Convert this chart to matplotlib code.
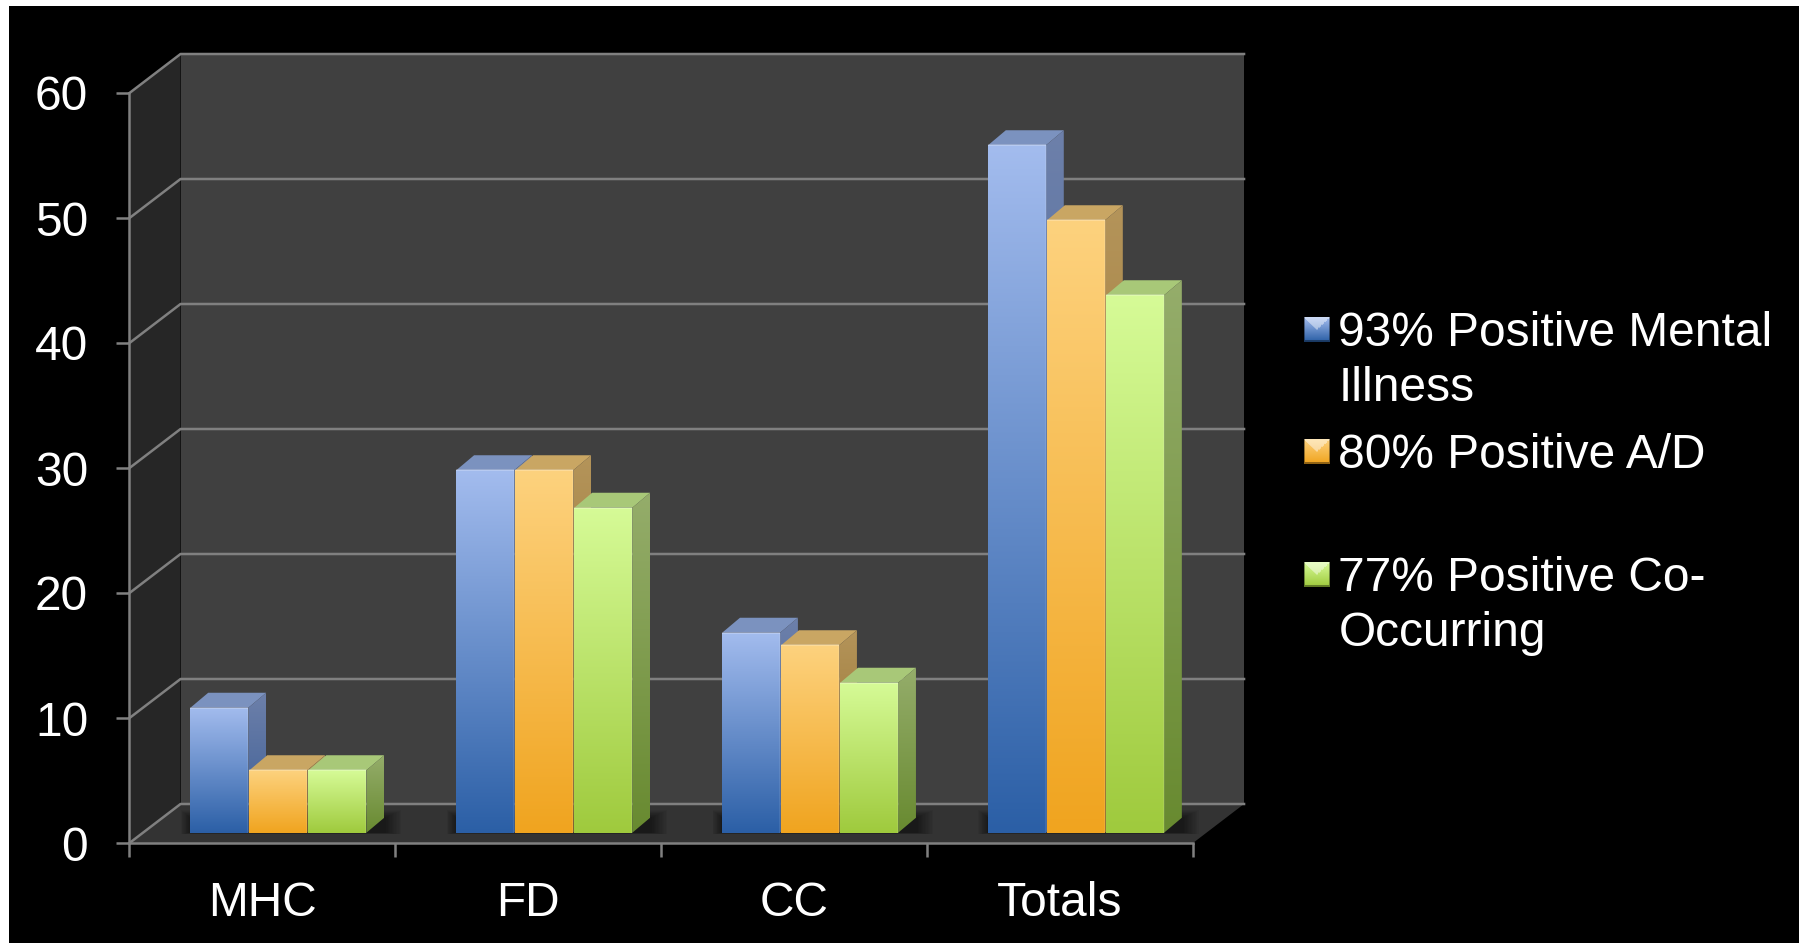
"""Dark 3D style column chart of screening results, faked with flat polygons."""
import numpy as np
import matplotlib
matplotlib.use('Agg')
import matplotlib.pyplot as plt
from matplotlib.colors import to_rgb
from matplotlib.patches import Polygon, Rectangle

plt.rcParams['font.family'] = ['Liberation Sans', 'DejaVu Sans']

# Data
categories = ['MHC', 'FD', 'CC', 'Totals']
mental_illness = [10, 29, 16, 55]
alcohol_drug = [5, 29, 15, 49]
co_occurring = [5, 26, 12, 43]
y_ticks = [0, 10, 20, 30, 40, 50, 60]
legend_labels = ['93% Positive Mental\nIllness', '80% Positive A/D', '77% Positive Co-\nOccurring']

series = [mental_illness, alcohol_drug, co_occurring]
# front top, front bottom, top face, side top, side bottom
palette = [
    ('#a3bcee', '#2b5fa6', '#7b92bf', '#6d80aa', '#3a5c94'),
    ('#fdd27e', '#f0a41f', '#c9a663', '#b4945a', '#8f6a22'),
    ('#d6fb97', '#9fca3d', '#a8c878', '#95ad6b', '#688a30'),
]

# Fake 3D geometry, in data units (category widths / value units)
WALL_DX, WALL_DY = 0.192, 3.12
BAR_DX, BAR_DY = 0.062, 0.82
SIDE_DX, SIDE_DY = 0.067, 1.2
BAR_W = 0.222
BAR_GAP = 0.004
LINE = '#808080'
LW = 1.8
FONT = 34.5


def gradient(ax, corners, colors, zorder):
    # vertical gradient, clipped to the polygon given by corners
    corners = np.array(corners)
    c0 = np.array(to_rgb(colors[0]))
    c1 = np.array(to_rgb(colors[1]))
    t = np.linspace(0, 1, 256)[:, None, None]
    img = c0[None, None, :] * (1 - t) + c1[None, None, :] * t
    extent = (corners[:, 0].min(), corners[:, 0].max(), corners[:, 1].min(), corners[:, 1].max())
    im = ax.imshow(img, extent=extent, origin='upper', aspect='auto', zorder=zorder)
    clip = Polygon(corners, closed=True, transform=ax.transData, fill=False, edgecolor='none')
    im.set_clip_path(clip)


def draw_bar(ax, x, value, colors, zorder):
    x0 = x + BAR_DX
    x1 = x0 + BAR_W - BAR_GAP
    y0 = BAR_DY
    y1 = y0 + value
    # top face
    ax.add_patch(Polygon([(x0, y1), (x1, y1), (x1 + SIDE_DX, y1 + SIDE_DY), (x0 + SIDE_DX, y1 + SIDE_DY)],
                         facecolor=colors[2], edgecolor='none', zorder=zorder, clip_on=False))
    # side face
    gradient(ax, [(x1, y0), (x1 + SIDE_DX, y0 + SIDE_DY), (x1 + SIDE_DX, y1 + SIDE_DY), (x1, y1)],
             (colors[3], colors[4]), zorder)
    # front face
    gradient(ax, [(x0, y0), (x1, y0), (x1, y1), (x0, y1)], (colors[0], colors[1]), zorder + 0.5)
    # small bevel highlight along the top and right edges
    ax.plot([x0, x1], [y1, y1], color='white', lw=1.5, alpha=0.22, zorder=zorder + 0.6, solid_capstyle='butt')
    ax.plot([x1, x1], [y0, y1], color='white', lw=1.2, alpha=0.10, zorder=zorder + 0.6, solid_capstyle='butt')


def draw_walls(ax):
    xmin, xmax = -0.5, len(categories) - 0.5
    ymax = y_ticks[-1]
    ax.add_patch(Polygon([(xmin + WALL_DX, WALL_DY), (xmax + WALL_DX, WALL_DY),
                          (xmax + WALL_DX, ymax + WALL_DY), (xmin + WALL_DX, ymax + WALL_DY)],
                         facecolor='#404040', edgecolor='none', zorder=1, clip_on=False))
    ax.add_patch(Polygon([(xmin, 0), (xmin + WALL_DX, WALL_DY), (xmin + WALL_DX, ymax + WALL_DY), (xmin, ymax)],
                         facecolor='#262626', edgecolor='none', zorder=1, clip_on=False))
    ax.add_patch(Polygon([(xmin, 0), (xmax, 0), (xmax + WALL_DX, WALL_DY), (xmin + WALL_DX, WALL_DY)],
                         facecolor='#333333', edgecolor='none', zorder=1, clip_on=False))
    for tick in y_ticks:
        ax.plot([xmin, xmin + WALL_DX, xmax + WALL_DX], [tick, tick + WALL_DY, tick + WALL_DY],
                color=LINE, lw=LW, zorder=2, clip_on=False)
    ax.plot([xmin, xmin], [0, ymax], color=LINE, lw=LW, zorder=2, clip_on=False)
    ax.plot([xmin, xmax], [0, 0], color=LINE, lw=LW, zorder=2, clip_on=False)


def draw_shadow(ax, x):
    # soft shadow on the floor round each group, many faint layers
    x0 = x + BAR_DX
    x1 = x0 + 3 * BAR_W + SIDE_DX
    for grow in np.linspace(0.06, 0.004, 12):
        ax.add_patch(Rectangle((x0 - grow * 0.6, BAR_DY - grow * 2), x1 - x0 + 1.6 * grow, SIDE_DY + grow * 12,
                               facecolor='black', alpha=0.045, edgecolor='none', zorder=3, clip_on=False))


def pyramid(colors):
    # legend swatch: bevelled square, light on top and dark below
    n = 26
    yy, xx = np.mgrid[0:n, 0:n] / (n - 1.0) - 0.5
    top = np.array(to_rgb(colors[0]))
    bottom = np.array(to_rgb(colors[1]))
    t = (yy + 0.5)[:, :, None]
    img = top * (1 - t) + bottom * t
    # pale triangle from the top edge down to the middle
    tri = (yy < 0) & (np.abs(xx) <= -yy)
    img[tri] = img[tri] * 0.55 + 0.45
    edge = (np.abs(xx) > 0.46) | (yy > 0.44)
    img[edge] = img[edge] * 0.6
    return np.clip(img, 0, 1)


fig = plt.figure(figsize=(18.08, 9.46), dpi=100, facecolor='white')

# pixel sized overlay for the black slide and the legend
back = fig.add_axes([0, 0, 1, 1], zorder=0)
back.axis('off')
back.add_patch(Rectangle((9, 6), 1790, 937, facecolor='black', edgecolor='none'))

ax = fig.add_axes([129.5 / 1808, 1 - 843 / 946, (1193 - 129.5) / 1808, 750 / 946], zorder=1)
ax.patch.set_alpha(0)
for side in ax.spines.values():
    side.set_visible(False)

draw_walls(ax)
for i in range(len(categories)):
    draw_shadow(ax, i - 1.5 * BAR_W)
    for j, values in enumerate(series):
        draw_bar(ax, i + (j - 1.5) * BAR_W, values[i], palette[j], 5 + i + j * 0.1)

ax.set_xlim(-0.5, len(categories) - 0.5)
ax.set_ylim(0, y_ticks[-1])
ax.set_yticks(y_ticks)
ax.tick_params(axis='y', labelcolor='white', labelsize=FONT, length=9.7, width=LW, color=LINE, pad=20)
ax.set_xticks(np.arange(len(categories) + 1) - 0.5)
ax.set_xticklabels([])
ax.set_xticks(np.arange(len(categories)), minor=True)
ax.set_xticklabels(categories, minor=True)
ax.tick_params(axis='x', which='major', length=10, width=LW, color=LINE)
ax.tick_params(axis='x', which='minor', length=0, labelsize=FONT, labelcolor='white', pad=27.5)

# Legend
swatch_top = [317, 439, 562]
for label, colors, top in zip(legend_labels, palette, swatch_top):
    back.imshow(pyramid(colors), extent=(1304, 1329.5, top + 25, top), aspect='auto', zorder=2)
    baseline = top + 29 + label.count('\n') * 54.7
    back.text(1338.5, baseline, label, color='white', fontsize=FONT, va='baseline', ha='left',
              linespacing=1.28)
back.set_xlim(0, 1808)
back.set_ylim(946, 0)

fig.savefig('out.png', dpi=100, facecolor=fig.get_facecolor())
